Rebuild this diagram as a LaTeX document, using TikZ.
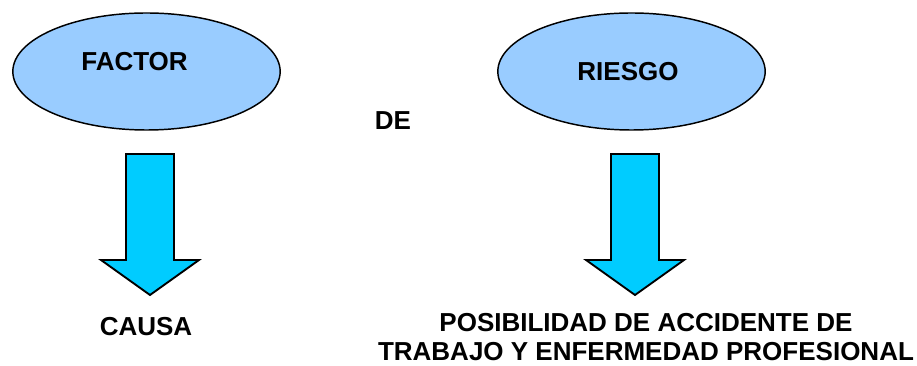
\documentclass[tikz,border=0pt]{standalone}
\usepackage{fontspec}
\setmainfont{Liberation Sans}
\usetikzlibrary{shapes.geometric}

\definecolor{ovalblue}{RGB}{153,204,255}
\definecolor{arrowcyan}{RGB}{0,204,255}

\tikzset{every picture/.style={line width=0.75pt}}
\tikzset{
  oval/.style={draw, ellipse, fill=ovalblue, line width=1.1pt, inner sep=0pt, minimum width=200.5pt, minimum height=87.75pt},
  bigarrow/.style={draw, fill=arrowcyan, line width=1.4pt, line join=miter},
  lbl/.style={inner sep=0.75pt, font=\fontsize{19.5}{21.75}\selectfont\bfseries, align=center}
}

\begin{document}
\begin{tikzpicture}[x=0.75pt,y=0.75pt,yscale=-1,xscale=1]
\useasboundingbox (0,0) rectangle (917,366);

%Shape: Ellipse
\node [oval] (factorOval) at (146.5,71.5) {};
%Shape: Ellipse
\node [oval] (riesgoOval) at (631.5,71.5) {};

%Shape: Down Arrow
\draw [bigarrow] (126,154) -- (174,154) -- (174,260) -- (199,260) -- (150,295) -- (101,260) -- (126,260) -- cycle ;
%Shape: Down Arrow
\draw [bigarrow] (611,154) -- (659,154) -- (659,260) -- (684,260) -- (635,295) -- (586,260) -- (611,260) -- cycle ;

% Text Node
\draw (134.5,61.5) node [lbl] (factor) {FACTOR};
% Text Node
\draw (628,71.5) node [lbl] (riesgo) {RIESGO};
% Text Node
\draw (393,121) node [lbl] (de) {DE};
% Text Node
\draw (146,327) node [lbl] (causa) {CAUSA};
% Text Node
\draw (646,337.5) node [lbl] (posibilidad) {POSIBILIDAD DE ACCIDENTE DE\\TRABAJO Y ENFERMEDAD PROFESIONAL};

\end{tikzpicture}
\end{document}
